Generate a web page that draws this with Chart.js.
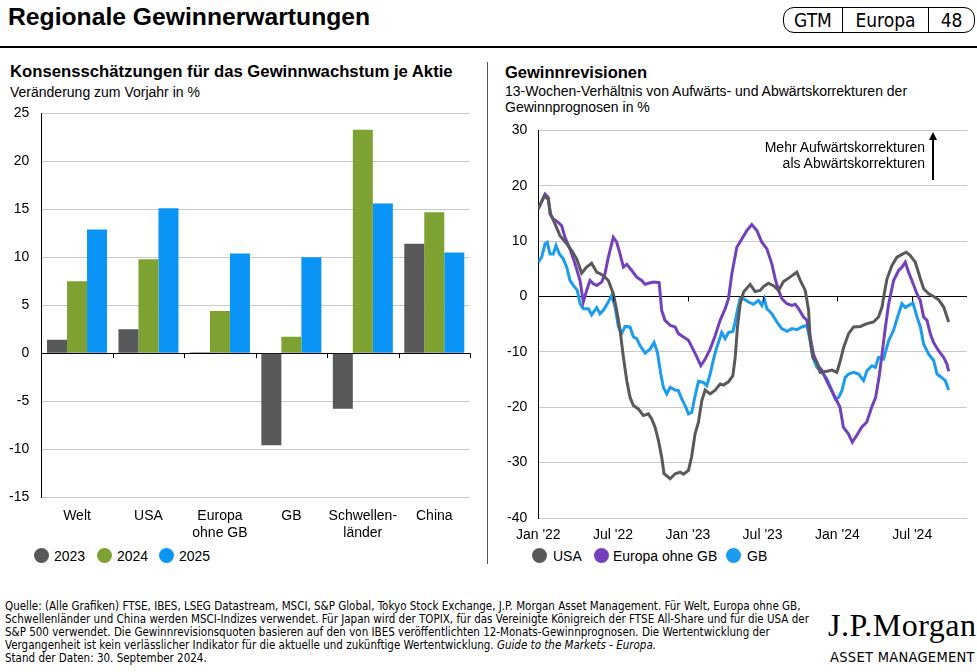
<!DOCTYPE html>
<html lang="de">
<head>
<meta charset="utf-8">
<title>Regionale Gewinnerwartungen</title>
<script src="https://cdn.jsdelivr.net/npm/chart.js@4.4.1/dist/chart.umd.min.js"></script>
<style>
  body { margin: 0; width: 977px; height: 672px; position: relative; background: #fff;
         font-family: 'Liberation Sans', Arial, sans-serif; color: #000; overflow: hidden; }
  .abs { position: absolute; white-space: nowrap; line-height: 1; }
  .narrow { font-family: 'Liberation Sans Narrow', 'DejaVu Sans Condensed', Arial, sans-serif; }
  canvas { position: absolute; }
  .dot { position: absolute; width: 15px; height: 15px; border-radius: 50%; }
  .leg { position: absolute; font-size: 14px; line-height: 1; }
</style>
</head>
<body>

<div class="abs" style="left:8px;top:5px;font-size:24.7px;font-weight:bold;">Regionale Gewinnerwartungen</div>
<div class="abs narrow" style="left:783px;top:7px;width:190px;height:24px;border:1px solid #000;border-radius:11px;font-size:19px;">
  <div class="abs" style="left:0;top:3px;width:58px;text-align:center;">GTM</div>
  <div class="abs" style="left:58px;top:0;width:1px;height:24px;background:#000;"></div>
  <div class="abs" style="left:59px;top:3px;width:85px;text-align:center;">Europa</div>
  <div class="abs" style="left:144px;top:0;width:1px;height:24px;background:#000;"></div>
  <div class="abs" style="left:145px;top:3px;width:45px;text-align:center;">48</div>
</div>
<div class="abs" style="left:0;top:46px;width:977px;height:2px;background:#000;"></div>
<div class="abs" style="left:487px;top:62px;width:1px;height:502px;background:#555;"></div>

<!-- left panel -->
<div class="abs" style="left:10px;top:64px;font-size:16.7px;font-weight:bold;">Konsensschätzungen für das Gewinnwachstum je Aktie</div>
<div class="abs" style="left:10px;top:85px;font-size:14px;">Veränderung zum Vorjahr in %</div>
<canvas id="barChart" width="480" height="454" style="left:0;top:93px;width:480px;height:454px;"></canvas>
<div class="dot" style="left:34px;top:548px;background:#58595b;"></div><div class="leg" style="left:54px;top:549px;">2023</div>
<div class="dot" style="left:97px;top:548px;background:#7da232;"></div><div class="leg" style="left:117px;top:549px;">2024</div>
<div class="dot" style="left:159px;top:548px;background:#0a94f5;"></div><div class="leg" style="left:179px;top:549px;">2025</div>

<!-- right panel -->
<div class="abs" style="left:505px;top:64px;font-size:16.5px;font-weight:bold;">Gewinnrevisionen</div>
<div class="abs" style="left:505px;top:84px;font-size:14px;line-height:15.7px;">13-Wochen-Verhältnis von Aufwärts- und Abwärtskorrekturen der<br>Gewinnprognosen in %</div>
<canvas id="lineChart" width="487" height="437" style="left:490px;top:111px;width:487px;height:437px;"></canvas>
<div class="abs" style="left:700px;top:140px;width:225px;text-align:right;font-size:14px;line-height:15.7px;">Mehr Aufwärtskorrekturen<br>als Abwärtskorrekturen</div>
<div class="abs" style="left:932px;top:139px;width:1.5px;height:41px;background:#000;"></div>
<div class="abs" style="left:929px;top:132px;width:0;height:0;border-left:4px solid transparent;border-right:4px solid transparent;border-bottom:8px solid #000;"></div>
<div class="dot" style="left:532px;top:548px;background:#58595b;"></div><div class="leg" style="left:553px;top:549px;">USA</div>
<div class="dot" style="left:594px;top:548px;background:#7340be;"></div><div class="leg" style="left:613px;top:549px;">Europa ohne GB</div>
<div class="dot" style="left:726px;top:548px;background:#1a9cf0;"></div><div class="leg" style="left:747px;top:549px;">GB</div>

<!-- footer -->
<div class="abs narrow" style="left:5px;top:600px;font-size:11.5px;line-height:13px;">
Quelle: (Alle Grafiken) FTSE, IBES, LSEG Datastream, MSCI, S&amp;P Global, Tokyo Stock Exchange, J.P. Morgan Asset Management. Für Welt, Europa ohne GB,<br>
Schwellenländer und China werden MSCI-Indizes verwendet. Für Japan wird der TOPIX, für das Vereinigte Königreich der FTSE All-Share und für die USA der<br>
S&amp;P 500 verwendet. Die Gewinnrevisionsquoten basieren auf den von IBES veröffentlichten 12-Monats-Gewinnprognosen. Die Wertentwicklung der<br>
Vergangenheit ist kein verlässlicher Indikator für die aktuelle und zukünftige Wertentwicklung. <i>Guide to the Markets - Europa.</i><br>
Stand der Daten: 30. September 2024.
</div>
<div class="abs" style="left:828px;top:609px;font-family:'Liberation Serif','Times New Roman',serif;font-size:32px;letter-spacing:0.5px;">J.P.Morgan</div>
<div class="abs narrow" style="left:830px;top:650px;font-size:14.5px;letter-spacing:0.3px;">ASSET MANAGEMENT</div>

<script>
// Left: EPS growth consensus, % y/y
const regions = ['Welt', 'USA', ['Europa', 'ohne GB'], 'GB', ['Schwellen-', 'länder'], 'China'];
const eps2023 = [1.4, 2.5, 0.1, -9.6, -5.8, 11.4];
const eps2024 = [7.5, 9.8, 4.4, 1.7, 23.3, 14.7];
const eps2025 = [12.9, 15.1, 10.4, 10.0, 15.6, 10.5];

// Right: 13-week revision ratio, [months since Jan 2022, %]
const usaRevisions = [[0,16.0],[0.5,18.2],[0.8,17.5],[1.0,14.8],[1.34,13.1],[1.74,11.0],[2.28,9.5],[2.68,8.3],[3.08,6.8],[3.48,4.2],[3.88,5.3],[4.28,6.0],[4.69,4.4],[5.22,3.8],[5.62,2.9],[6.02,0.5],[6.29,-2.5],[6.56,-6.1],[6.83,-11.0],[7.1,-15.2],[7.36,-18.2],[7.63,-19.7],[8.03,-20.3],[8.43,-21.5],[8.84,-21.2],[9.1,-22.1],[9.37,-23.6],[9.64,-26.0],[9.9,-29.0],[10.09,-32.0],[10.58,-32.9],[10.98,-32.0],[11.38,-31.7],[11.65,-32.1],[12.05,-31.4],[12.3,-29.0],[12.58,-24.8],[12.85,-22.7],[13.12,-18.8],[13.39,-16.9],[13.79,-17.6],[14.19,-16.9],[14.59,-15.8],[14.86,-16.0],[15.26,-15.4],[15.61,-14.3],[15.8,-11.0],[15.98,-5.5],[16.2,-1.3],[16.47,0.8],[17.0,2.2],[17.4,0.9],[17.8,1.1],[18.07,1.8],[18.47,2.4],[18.9,1.9],[19.28,1.1],[19.68,2.7],[20.2,3.5],[20.75,4.4],[21.02,2.9],[21.42,1.1],[21.69,-2.5],[21.82,-8.0],[22.03,-11.0],[22.36,-11.9],[22.62,-13.7],[23.16,-13.5],[23.56,-13.3],[23.96,-13.7],[24.23,-11.6],[24.5,-9.2],[24.9,-6.7],[25.3,-5.5],[25.84,-5.4],[26.37,-4.9],[26.9,-4.6],[27.3,-3.7],[27.58,-1.9],[27.76,0.5],[27.98,3.2],[28.38,5.6],[28.78,7.1],[29.18,7.6],[29.53,8.0],[29.85,7.4],[30.25,6.2],[30.66,3.2],[30.92,1.4],[31.33,0.5],[31.73,0.0],[32.13,-0.6],[32.53,-1.9],[32.93,-4.6]];
const europeRevisions = [[0,15.8],[0.54,18.5],[0.8,17.9],[0.94,14.9],[1.2,14.0],[1.6,13.4],[1.87,12.8],[2.14,10.7],[2.54,8.6],[2.95,5.9],[3.35,2.9],[3.61,-1.0],[3.88,1.1],[4.15,2.9],[4.42,2.3],[4.69,2.0],[5.09,2.6],[5.35,4.1],[5.62,7.1],[6.02,10.7],[6.29,9.8],[6.56,7.7],[6.83,5.3],[7.1,5.8],[7.5,4.7],[7.9,3.5],[8.3,2.9],[8.57,2.2],[8.84,2.4],[9.24,2.6],[9.7,2.5],[9.9,-2.5],[10.17,-4.3],[10.58,-5.2],[10.98,-5.5],[11.24,-6.7],[11.65,-7.3],[12.05,-7.9],[12.32,-9.1],[12.72,-10.9],[13.04,-12.5],[13.39,-11.3],[13.79,-9.5],[14.19,-7.1],[14.59,-4.3],[15.0,-2.2],[15.26,-0.4],[15.53,4.1],[15.93,8.9],[16.33,10.4],[16.73,11.9],[17.13,13.0],[17.54,11.9],[17.94,9.8],[18.34,8.6],[18.74,5.9],[19.01,3.2],[19.28,1.1],[19.55,-0.4],[19.95,-1.3],[20.35,-1.6],[20.62,-1.4],[20.88,-2.2],[21.29,-3.7],[21.55,-4.3],[21.82,-7.3],[22.09,-10.5],[22.49,-12.6],[22.74,-13.3],[23.27,-15.8],[23.81,-18.2],[24.21,-20.0],[24.48,-23.6],[24.88,-24.8],[25.2,-26.3],[25.55,-25.1],[25.95,-23.6],[26.35,-22.7],[26.75,-20.0],[27.07,-18.2],[27.34,-14.6],[27.55,-11.0],[27.82,-6.1],[28.1,-1.5],[28.51,2.9],[28.91,4.7],[29.18,5.3],[29.45,6.2],[29.71,4.4],[29.98,2.9],[30.38,0.5],[30.65,-0.7],[30.92,-3.7],[31.19,-4.3],[31.45,-6.7],[31.72,-8.3],[32.12,-9.8],[32.53,-11.0],[32.79,-12.2],[32.93,-13.5]];
const gbRevisions = [[0,6.2],[0.27,7.1],[0.54,9.5],[0.72,9.8],[0.94,7.7],[1.2,7.7],[1.42,9.2],[1.69,7.7],[2.0,6.8],[2.28,5.3],[2.54,2.9],[2.81,2.0],[3.13,1.1],[3.35,-1.3],[3.61,-2.2],[4.02,-2.2],[4.28,-3.3],[4.69,-2.0],[4.95,-3.1],[5.22,-2.5],[5.62,-1.0],[5.89,0.2],[6.16,-1.9],[6.43,-5.5],[6.69,-6.7],[6.96,-5.4],[7.36,-5.5],[7.63,-7.3],[7.9,-7.6],[8.17,-8.9],[8.57,-10.2],[8.97,-9.5],[9.29,-8.3],[9.56,-10.1],[9.83,-14.0],[10.04,-16.4],[10.31,-17.6],[10.58,-16.4],[10.98,-16.9],[11.24,-17.0],[11.51,-18.5],[11.78,-19.7],[12.05,-21.2],[12.32,-20.9],[12.5,-18.8],[12.85,-15.3],[13.25,-15.5],[13.52,-16.1],[13.79,-14.0],[14.06,-11.3],[14.32,-9.2],[14.72,-6.5],[14.99,-7.6],[15.26,-6.5],[15.61,-6.3],[15.8,-4.6],[15.98,-2.5],[16.2,-0.4],[16.47,-0.4],[16.87,-1.0],[17.27,-1.4],[17.67,-0.7],[17.94,-1.6],[18.13,-0.4],[18.34,-2.2],[18.74,-3.1],[19.14,-4.6],[19.54,-5.8],[19.95,-6.3],[20.35,-5.8],[20.75,-6.0],[21.15,-5.5],[21.55,-5.2],[21.82,-8.0],[22.03,-11.0],[22.36,-12.8],[22.76,-13.7],[23.16,-14.9],[23.56,-17.0],[23.83,-18.5],[24.1,-18.2],[24.36,-17.0],[24.63,-14.6],[24.9,-14.0],[25.3,-13.7],[25.7,-14.0],[26.1,-15.2],[26.37,-13.4],[26.77,-12.5],[27.04,-12.8],[27.3,-11.0],[27.7,-11.3],[28.11,-8.0],[28.51,-6.1],[28.83,-3.7],[29.18,-1.3],[29.45,-2.0],[29.72,-1.6],[30.07,-1.2],[30.39,-3.7],[30.66,-5.5],[30.92,-8.6],[31.33,-10.4],[31.73,-11.6],[32.0,-14.0],[32.4,-14.7],[32.66,-15.2],[32.93,-16.9]];
const monthTicks = [0, 6, 12, 18, 24, 30];
const monthLabels = ["Jan '22", "Jul '22", "Jan '23", "Jul '23", "Jan '24", "Jul '24"];

Chart.defaults.font.family = "'Liberation Sans', Arial, sans-serif";
Chart.defaults.font.size = 14;
Chart.defaults.color = '#000';

const gridColor = ctx => ctx.tick && ctx.tick.value === 0 ? '#000' : '#c8c8c8';

// small tick marks hanging off the zero line
const zeroTicks = {
    id: 'zeroTicks',
    afterDatasetsDraw(chart, args, opts) {
        const xs = chart.scales.x, y0 = chart.scales.y.getPixelForValue(0);
        const ctx = chart.ctx;
        ctx.save();
        ctx.strokeStyle = '#000';
        ctx.lineWidth = 1;
        opts.at(xs).forEach(px => {
            ctx.beginPath();
            ctx.moveTo(Math.round(px) + 0.5, y0);
            ctx.lineTo(Math.round(px) + 0.5, y0 + 5);
            ctx.stroke();
        });
        ctx.restore();
    }
};

new Chart(document.getElementById('barChart'), {
    type: 'bar',
    data: {
        labels: regions,
        datasets: [
            { label: '2023', data: eps2023, backgroundColor: '#58595b' },
            { label: '2024', data: eps2024, backgroundColor: '#7da232' },
            { label: '2025', data: eps2025, backgroundColor: '#0a94f5' }
        ]
    },
    options: {
        responsive: false,
        animation: false,
        categoryPercentage: 0.84,
        barPercentage: 1.0,
        layout: { padding: { top: 4, right: 10, bottom: 0, left: 0 } },
        plugins: {
            legend: { display: false },
            tooltip: { enabled: false },
            zeroTicks: {
                at: xs => {
                    const n = regions.length, w = (xs.right - xs.left) / n;
                    return Array.from({ length: n }, (_, i) => xs.left + w * (i + 1));
                }
            }
        },
        scales: {
            x: {
                grid: { display: false },
                border: { display: false },
                ticks: { padding: 3, maxRotation: 0, autoSkip: false },
                afterFit: s => { s.height = 50; }
            },
            y: {
                min: -15, max: 25,
                ticks: { stepSize: 5, padding: 12 },
                grid: { color: gridColor, drawTicks: false },
                border: { color: '#000', width: 1 },
                afterFit: s => { s.width = 41.3; }
            }
        }
    },
    plugins: [zeroTicks]
});

const toPoints = rows => rows.map(r => ({ x: r[0], y: r[1] }));
const lineStyle = { borderWidth: 3, pointRadius: 0, tension: 0, fill: false };

new Chart(document.getElementById('lineChart'), {
    type: 'line',
    data: {
        datasets: [
            { label: 'USA', data: toPoints(usaRevisions), borderColor: '#58595b', ...lineStyle },
            { label: 'Europa ohne GB', data: toPoints(europeRevisions), borderColor: '#7340be', ...lineStyle },
            { label: 'GB', data: toPoints(gbRevisions), borderColor: '#1a9cf0', ...lineStyle }
        ]
    },
    options: {
        responsive: false,
        animation: false,
        layout: { padding: { top: 4, right: 10, bottom: 0, left: 0 } },
        plugins: {
            legend: { display: false },
            tooltip: { enabled: false },
            zeroTicks: { at: xs => monthTicks.slice(1).map(m => xs.getPixelForValue(m)) }
        },
        scales: {
            x: {
                type: 'linear',
                min: 0, max: 34.4,
                grid: { display: false },
                border: { display: false },
                ticks: {
                    stepSize: 6, includeBounds: false, padding: 1, maxRotation: 0, autoSkip: false,
                    callback: v => monthLabels[monthTicks.indexOf(v)] || ''
                },
                afterFit: s => { s.height = 30; }
            },
            y: {
                min: -40, max: 30,
                ticks: { stepSize: 10, padding: 11 },
                grid: { color: gridColor, drawTicks: false },
                border: { color: '#000', width: 1 },
                afterFit: s => { s.width = 48.3; }
            }
        }
    },
    plugins: [zeroTicks]
});
</script>
</body>
</html>
